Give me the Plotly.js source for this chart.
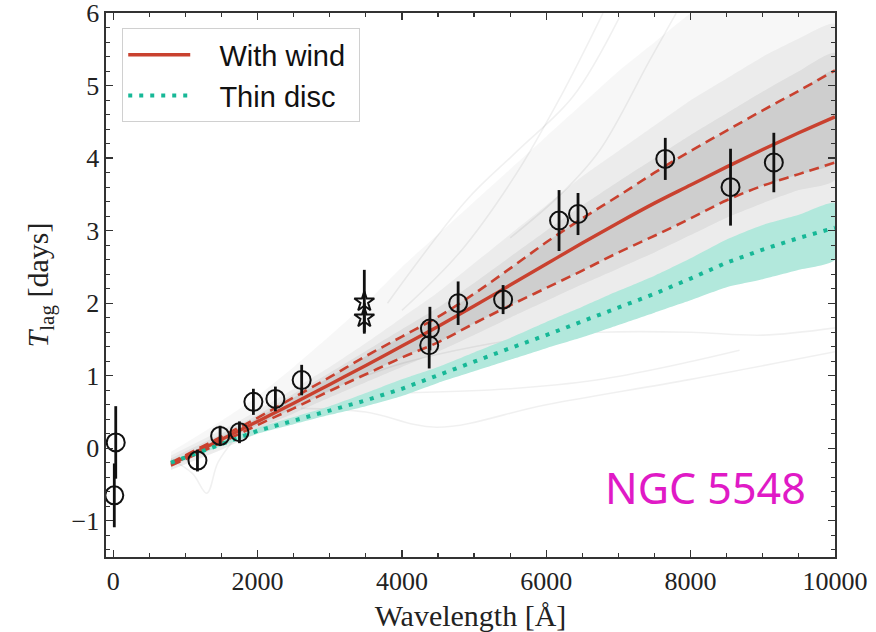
<!DOCTYPE html>
<html>
<head>
<meta charset="utf-8">
<script src="https://cdn.plot.ly/plotly-3.0.1.min.js"></script>
<style>html,body{margin:0;padding:0;background:#fff;}#chart{width:876px;height:632px;}</style>
</head>
<body>
<div id="chart"></div>
<script>
// ---- model grid (wavelength, Å) ----
const xGrid = [800, 1500, 2000, 2500, 3000, 3500, 4000, 4500, 5000, 5500, 6000, 6500, 7000, 7500, 8000, 8500, 9000, 9500, 10000];
// With wind: median and 16/84 percentiles
const windMid = [-0.22, 0.12, 0.37, 0.62, 0.88, 1.14, 1.41, 1.68, 1.96, 2.25, 2.54, 2.83, 3.11, 3.38, 3.63, 3.88, 4.12, 4.35, 4.57];
const windUp  = [-0.20, 0.16, 0.42, 0.70, 0.98, 1.27, 1.54, 1.81, 2.13, 2.48, 2.84, 3.17, 3.48, 3.80, 4.10, 4.38, 4.66, 4.93, 5.21];
const windLo  = [-0.24, 0.08, 0.32, 0.55, 0.79, 1.02, 1.25, 1.46, 1.72, 1.97, 2.21, 2.45, 2.70, 2.93, 3.17, 3.42, 3.62, 3.78, 3.94];
// Thin disc: model and band
const discMid = [-0.20, 0.06, 0.24, 0.38, 0.52, 0.66, 0.82, 1.01, 1.19, 1.38, 1.56, 1.75, 1.94, 2.13, 2.34, 2.56, 2.74, 2.90, 3.04];
const discUp  = [-0.17, 0.10, 0.28, 0.43, 0.58, 0.76, 0.95, 1.12, 1.32, 1.52, 1.74, 1.95, 2.17, 2.38, 2.62, 2.88, 3.08, 3.22, 3.38];
const discLo  = [-0.23, 0.03, 0.20, 0.33, 0.46, 0.58, 0.72, 0.90, 1.06, 1.22, 1.38, 1.53, 1.70, 1.87, 2.04, 2.22, 2.33, 2.46, 2.60];
// Posterior sample spaghetti: density envelopes
const sampOuterUp = [-0.05, 0.38, 0.72, 1.12, 1.55, 2.00, 2.50, 2.95, 3.40, 3.85, 4.30, 4.75, 5.20, 5.60, 6.00, 6.30, 6.50, 6.50, 6.50];
const sampMidUp   = [-0.10, 0.25, 0.52, 0.82, 1.12, 1.45, 1.80, 2.15, 2.55, 2.95, 3.35, 3.75, 4.10, 4.45, 4.80, 5.10, 5.40, 5.65, 5.85];
const sampCoreUp  = [-0.14, 0.20, 0.46, 0.75, 1.04, 1.34, 1.64, 1.94, 2.28, 2.64, 3.00, 3.35, 3.68, 4.00, 4.32, 4.62, 4.92, 5.20, 5.45];
const sampCoreLo  = [-0.26, 0.04, 0.27, 0.48, 0.70, 0.91, 1.12, 1.33, 1.56, 1.80, 2.03, 2.26, 2.48, 2.70, 2.94, 3.18, 3.38, 3.56, 3.70];
const sampLo      = [-0.30, -0.02, 0.20, 0.36, 0.52, 0.70, 0.88, 1.06, 1.25, 1.45, 1.66, 1.88, 2.10, 2.32, 2.56, 2.80, 3.00, 3.15, 3.30];
// Individual outlying samples
const out1X = [4000, 4800, 5588, 6200, 6786];        const out1Y = [1.90, 2.70, 3.79, 4.85, 6.00];
const out2X = [3800, 4895, 5600, 6370, 7017];        const out2Y = [2.00, 3.42, 4.10, 4.85, 5.95];
const out3X = [5500, 6200, 6741, 7433, 7800];        const out3Y = [2.90, 3.50, 4.11, 5.35, 6.00];
const out4X = [3500, 4000, 5000, 6000, 6741, 8000, 9000, 10000]; const out4Y = [1.00, 1.17, 1.40, 1.55, 1.60, 1.60, 1.56, 1.66];
const out5X = [2600, 3500, 4480, 6000, 8000, 10000]; const out5Y = [0.55, 0.50, 0.29, 0.60, 0.95, 1.33];
const out6X = [3972, 5500, 6695, 7800, 8678];        const out6Y = [0.76, 0.82, 0.94, 1.15, 1.35];
const out7X = [800, 1100, 1297, 1450, 1700];         const out7Y = [-0.15, -0.35, -0.62, -0.20, 0.15];
// Observed lags
const obsX   = [35, 15, 1167, 1481, 1749, 1942, 2247, 2611, 4388, 4378, 4779, 5402, 6177, 6440, 7649, 8553, 9153];
const obsY   = [0.08, -0.65, -0.17, 0.17, 0.22, 0.64, 0.68, 0.94, 1.65, 1.42, 2.00, 2.05, 3.14, 3.23, 3.99, 3.60, 3.94];
const obsErr = [0.50, 0.44, 0.15, 0.14, 0.15, 0.18, 0.17, 0.21, 0.30, 0.32, 0.30, 0.20, 0.42, 0.29, 0.29, 0.53, 0.41];
const starX   = [3479, 3479];
const starY   = [2.02, 1.80];
const starErr = [0.44, 0.20];
// Labels
const legendWind = 'With wind';
const legendDisc = 'Thin disc';
const objectName = 'NGC 5548';
const xTickVals = [0, 2000, 4000, 6000, 8000, 10000];
const xTickText = ['0', '2000', '4000', '6000', '8000', '10000'];
const yTickVals = [-1, 0, 1, 2, 3, 4, 5, 6];

function band(lo, up, color) {
  return {x: xGrid.concat(xGrid.slice().reverse()), y: up.concat(lo.slice().reverse()),
    type: 'scatter', mode: 'lines', fill: 'toself', fillcolor: color,
    line: {width: 0, shape: 'spline', smoothing: 0.6}, hoverinfo: 'skip', showlegend: false};
}
function thin(x, y) {
  return {x: x, y: y, type: 'scatter', mode: 'lines', line: {color: 'rgba(0,0,0,0.06)', width: 1.6, shape: 'spline'},
    hoverinfo: 'skip', showlegend: false};
}
const red = '#c9412f';
const teal = '#17b897';
const pad = '\u00a0\u00a0\u00a0';
const traces = [
  band(sampLo, sampOuterUp, 'rgba(0,0,0,0.03)'),
  band(sampLo, sampMidUp, 'rgba(0,0,0,0.045)'),
  band(sampCoreLo, sampCoreUp, 'rgba(0,0,0,0.055)'),
  band(windLo, windUp, 'rgba(0,0,0,0.075)'),
  thin(out1X, out1Y), thin(out2X, out2Y), thin(out3X, out3Y), thin(out4X, out4Y),
  thin(out5X, out5Y), thin(out6X, out6Y), thin(out7X, out7Y),
  band(discLo, discUp, '#b2e8dc'),
  {x: xGrid, y: windUp, type: 'scatter', mode: 'lines', line: {color: red, width: 2.6, dash: '10px,6px', shape: 'spline'}, showlegend: false},
  {x: xGrid, y: windLo, type: 'scatter', mode: 'lines', line: {color: red, width: 2.6, dash: '10px,6px', shape: 'spline'}, showlegend: false},
  {x: xGrid, y: windMid, type: 'scatter', mode: 'lines', name: pad + legendWind + '\u00a0', line: {color: red, width: 3.4, shape: 'spline'}},
  {x: xGrid, y: discMid, type: 'scatter', mode: 'lines', name: pad + legendDisc, line: {color: teal, width: 4, dash: '4px,7px'}},
  {x: obsX, y: obsY, type: 'scatter', mode: 'markers', showlegend: false,
    marker: {symbol: 'circle-open', size: 18, color: '#111', line: {width: 2, color: '#111'}},
    error_y: {type: 'data', array: obsErr, visible: true, color: '#111', thickness: 2.8, width: 0}},
  {x: starX, y: starY, type: 'scatter', mode: 'markers', showlegend: false,
    marker: {symbol: 'star-open', size: 15, color: '#111', line: {width: 2, color: '#111'}},
    error_y: {type: 'data', array: starErr, visible: true, color: '#111', thickness: 2.8, width: 0}}
];
const serif = 'Liberation Serif, Times New Roman, serif';
const axisCommon = {
  showline: true, linecolor: '#333', linewidth: 1.6, mirror: 'allticks',
  ticks: 'inside', ticklen: 7, tickwidth: 1.4, tickcolor: '#333',
  showgrid: false, zeroline: false, ticklabeloverflow: 'allow',
  tickfont: {family: serif, size: 26, color: '#222'}
};
const layout = {
  width: 876, height: 632,
  margin: {l: 106, r: 41, t: 13, b: 75},
  paper_bgcolor: '#fff', plot_bgcolor: '#fff',
  showlegend: true,
  xaxis: Object.assign({}, axisCommon, {
    range: [-100, 10000.5], tickvals: xTickVals, ticktext: xTickText,
    minor: {dtick: 500, ticks: 'inside', ticklen: 4, tickwidth: 1.2, tickcolor: '#333'},
    title: {text: 'Wavelength [Å]', font: {family: serif, size: 30, color: '#222'}, standoff: 12}
  }),
  yaxis: Object.assign({}, axisCommon, {
    range: [-1.5, 6.002], tickvals: yTickVals,
    minor: {dtick: 0.2, ticks: 'inside', ticklen: 4, tickwidth: 1.2, tickcolor: '#333'},
    title: {text: '<i>T</i><sub>lag</sub> [days]', font: {family: serif, size: 30, color: '#222'}, standoff: 14}
  }),
  legend: {
    x: 0.022, y: 0.972, xanchor: 'left', yanchor: 'top',
    bgcolor: 'rgba(255,255,255,0.9)', bordercolor: '#d0d0d0', borderwidth: 1.2,
    font: {family: 'Liberation Sans, Arial, sans-serif', size: 29, color: '#111'},
    itemwidth: 62, tracegroupgap: 0
  },
  annotations: [{
    xref: 'paper', yref: 'paper', x: 0.682, y: 0.127, xanchor: 'left', yanchor: 'middle',
    text: objectName, showarrow: false,
    font: {family: 'Noto Sans, Open Sans, sans-serif', size: 43, color: '#e01ac6'}
  }]
};
Plotly.newPlot('chart', traces, layout, {displayModeBar: false, staticPlot: true});
</script>
</body>
</html>
